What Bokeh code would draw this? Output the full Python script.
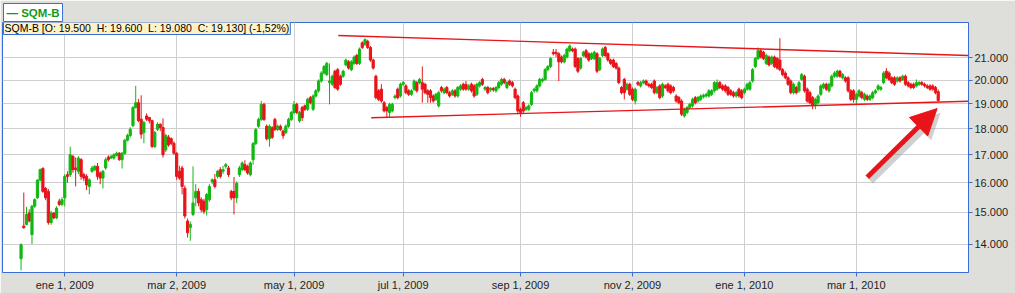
from bokeh.plotting import figure
from bokeh.models import (Range1d, FixedTicker, PrintfTickFormatter, ColumnDataSource,
                          Label, Arrow, NormalHead)
from bokeh.embed import file_html
from bokeh.resources import INLINE

# ---------------- data ----------------
opens = [
    13.56, 14.56, 14.61, 14.98, 14.29, 15.20, 15.48, 16.09, 16.50, 15.80,
    15.70, 14.67, 14.98, 14.82, 15.37, 15.26, 15.48, 16.28, 16.28, 16.94,
    16.52, 16.40, 16.82, 16.28, 16.22, 15.87, 16.40, 16.46, 16.58, 16.34,
    16.16, 16.52, 16.92, 16.88, 16.88, 16.98, 17.06, 16.82, 17.06, 17.55,
    17.73, 18.11, 18.84, 19.04, 18.37, 17.85, 18.50, 18.44, 18.31, 17.31,
    17.97, 18.17, 18.04, 17.18, 17.67, 17.61, 17.43, 17.06, 16.40, 16.52,
    15.81, 14.72, 14.51, 14.93, 15.48, 15.70, 15.42, 15.37, 15.09, 15.42,
    16.04, 16.10, 16.22, 16.46, 16.40, 16.58, 16.52, 15.70, 15.70, 15.48,
    16.28, 16.46, 16.64, 16.58,
    16.28, 16.82, 17.42, 18.09, 18.36, 18.97, 18.09, 17.60, 18.03, 18.36,
    17.96, 18.09, 17.90, 17.84, 18.09, 18.36, 18.64, 18.97, 18.30, 18.84,
    18.91, 18.77, 19.25, 18.77, 19.32, 19.54, 19.96, 20.31, 20.24, 19.89,
    19.82, 20.39, 20.46, 20.17, 20.17, 20.67, 20.81, 20.46, 20.74, 21.10,
    20.74, 21.69, 21.62, 21.76, 21.47, 20.89, 20.17, 19.54, 19.61, 19.04,
    18.84, 18.64, 18.70, 19.25, 19.61, 19.32, 19.82, 19.75, 19.54, 19.39,
    19.61, 19.89, 19.89, 19.89, 19.82, 19.54, 19.54, 19.32, 19.18, 18.91,
    19.68, 19.46, 19.68, 19.46, 19.39, 19.54, 19.32, 19.61, 19.82, 19.82,
    19.61, 19.82, 19.75, 19.39, 19.75, 20.03, 19.61, 19.68, 19.58, 19.64,
    19.54, 19.68,
    19.82, 20.03, 19.68, 19.96, 19.89, 19.61, 19.32, 18.77, 19.04, 18.77,
    18.77, 18.97, 19.54, 19.54, 19.75, 19.96, 20.03, 20.46, 20.60, 21.25,
    21.25, 21.18, 21.03, 20.81, 21.03, 21.32, 21.40, 21.40, 20.96, 20.53,
    21.10, 21.32, 21.18, 20.96, 20.96, 21.18, 20.46, 21.10, 21.47, 21.18,
    20.89, 20.89, 20.74, 20.53, 19.68, 20.03, 19.61, 19.82, 19.61, 19.11,
    19.89, 19.75, 19.89, 19.96, 19.82, 19.82, 19.96, 19.46, 19.75, 19.32,
    19.75, 19.82, 19.75, 19.68, 19.32, 19.25, 19.11, 18.50, 18.64, 18.84,
    18.91, 19.25, 19.11, 19.18, 19.29, 19.32, 19.32, 19.39, 19.54, 19.61,
    19.89, 19.75, 19.75, 19.68, 19.54, 19.46, 19.32, 19.61,
    19.54, 19.46, 19.61, 19.61, 19.96, 20.60, 20.96, 21.32, 21.25, 20.74,
    21.03, 20.74, 21.03, 20.96, 20.89, 20.46, 20.31, 20.10, 19.96, 19.46,
    19.68, 19.54, 20.03, 20.17, 19.61, 19.46, 19.25, 18.97, 19.04, 19.39,
    19.68, 19.82, 19.54, 19.75, 20.17, 20.17, 20.39, 20.10, 20.10, 20.10,
    19.54, 19.54, 19.18, 19.32, 19.46, 19.18, 19.32, 19.18, 19.25, 19.46,
    19.61, 19.61, 19.89, 20.39, 20.31, 20.10, 20.10, 19.96, 20.10, 20.03,
    20.17, 19.89, 19.82, 19.82, 19.75, 19.82, 19.89, 19.82, 19.75, 19.75,
    19.75, 19.68, 19.50,
]
highs = [
    14.02, 15.66, 15.18, 15.10, 15.25, 15.46, 16.12, 16.50, 16.55, 15.85,
    15.78, 15.05, 15.00, 15.20, 15.45, 15.50, 16.30, 16.40, 17.30, 17.00,
    16.90, 16.95, 16.88, 16.35, 16.30, 16.15, 16.60, 16.62, 16.70, 16.40,
    16.45, 16.90, 16.98, 17.00, 17.06, 17.12, 17.10, 17.10, 17.60, 17.80,
    18.05, 18.90, 19.75, 19.20, 19.35, 18.30, 18.60, 18.46, 18.35, 17.90,
    18.25, 18.20, 18.40, 17.80, 17.75, 17.65, 17.50, 17.10, 16.60, 16.60,
    15.90, 14.80, 14.70, 16.58, 15.95, 15.80, 15.50, 15.45, 15.65, 15.95,
    16.15, 16.30, 16.45, 16.55, 16.60, 16.70, 16.60, 15.75, 16.20, 16.05,
    16.60, 16.76, 16.80, 16.64,
    16.76, 17.48, 18.02, 18.43, 19.11, 19.04, 18.16, 18.16, 18.09, 18.43,
    18.16, 18.16, 17.96, 18.16, 18.43, 18.70, 19.11, 19.04, 18.70, 18.91,
    18.97, 19.25, 19.32, 19.39, 19.61, 20.03, 20.39, 20.67, 20.81, 20.74,
    20.24, 20.46, 20.53, 20.24, 20.46, 20.96, 20.89, 20.89, 21.10, 21.18,
    21.47, 21.76, 21.91, 21.84, 21.54, 20.96, 20.24, 19.61, 19.82, 19.11,
    18.91, 19.04, 19.04, 19.39, 19.68, 19.89, 19.96, 19.82, 19.61, 19.61,
    20.03, 19.96, 20.10, 20.60, 19.89, 19.61, 19.61, 19.39, 19.46, 19.54,
    19.75, 19.68, 19.75, 19.54, 19.61, 19.61, 19.75, 19.82, 19.89, 19.96,
    19.82, 19.89, 19.82, 19.89, 19.96, 20.10, 19.75, 19.75, 19.70, 19.70,
    19.75, 19.96,
    20.10, 20.10, 19.96, 20.03, 19.96, 19.68, 19.39, 18.84, 19.11, 18.91,
    18.97, 19.54, 19.68, 19.82, 20.10, 20.10, 20.53, 20.67, 21.03, 21.40,
    21.40, 21.25, 21.10, 21.18, 21.47, 21.62, 21.47, 21.47, 21.03, 21.03,
    21.32, 21.40, 21.25, 21.25, 21.32, 21.25, 21.03, 21.47, 21.54, 21.25,
    20.96, 20.96, 20.81, 20.60, 19.75, 20.10, 19.89, 19.89, 19.68, 19.68,
    19.96, 19.96, 20.03, 20.03, 19.89, 19.89, 20.03, 19.75, 19.82, 19.89,
    19.82, 19.89, 19.82, 19.75, 19.39, 19.32, 19.18, 18.84, 18.91, 19.04,
    19.25, 19.32, 19.32, 19.39, 19.42, 19.46, 19.61, 19.61, 19.96, 20.03,
    19.96, 19.82, 19.82, 19.75, 19.61, 19.54, 19.54, 19.68,
    19.61, 19.68, 19.89, 19.96, 20.53, 21.03, 21.47, 21.40, 21.32, 21.18,
    21.10, 21.10, 21.10, 21.03, 21.91, 20.53, 20.39, 20.17, 20.03, 19.89,
    19.75, 19.96, 20.31, 20.24, 19.68, 19.54, 19.32, 19.25, 19.39, 19.82,
    19.89, 19.89, 19.89, 20.24, 20.39, 20.46, 20.46, 20.31, 20.17, 20.17,
    19.61, 19.61, 19.46, 19.61, 19.54, 19.46, 19.39, 19.39, 19.54, 19.61,
    19.82, 19.75, 20.39, 20.53, 20.39, 20.17, 20.17, 20.17, 20.17, 20.24,
    20.24, 19.96, 19.89, 19.89, 20.03, 19.96, 19.96, 19.89, 19.82, 19.82,
    19.82, 19.75, 19.60,
]
lows = [
    13.22, 14.47, 14.58, 14.68, 14.00, 15.15, 15.45, 16.05, 15.65, 15.40,
    14.60, 14.60, 14.78, 14.78, 15.20, 15.20, 15.20, 16.00, 16.20, 16.35,
    15.87, 16.30, 16.10, 16.05, 15.75, 15.60, 16.35, 16.40, 16.10, 15.95,
    15.80, 16.45, 16.75, 16.85, 16.82, 16.94, 16.78, 16.50, 17.00, 17.50,
    17.65, 18.05, 18.80, 18.25, 17.60, 17.43, 18.30, 18.20, 17.25, 17.25,
    17.90, 17.90, 16.90, 17.10, 17.30, 17.35, 17.00, 16.10, 16.10, 15.60,
    14.80, 14.20, 14.10, 14.88, 15.20, 15.20, 15.00, 14.95, 14.90, 15.35,
    15.95, 15.80, 16.15, 16.15, 16.30, 16.50, 16.20, 15.40, 14.93, 15.30,
    16.20, 16.40, 16.40, 16.28,
    16.22, 16.64, 17.36, 18.03, 18.30, 18.30, 17.54, 17.30, 17.60, 17.90,
    17.90, 17.90, 17.60, 17.78, 18.03, 18.30, 18.57, 18.57, 18.23, 18.30,
    18.70, 18.70, 18.97, 18.70, 19.25, 19.46, 19.89, 20.24, 20.17, 18.97,
    19.75, 19.61, 19.54, 19.75, 20.10, 20.60, 20.46, 20.39, 20.67, 20.67,
    20.67, 21.40, 21.54, 21.40, 20.81, 20.46, 19.18, 19.11, 19.04, 18.64,
    18.43, 18.43, 18.64, 19.18, 19.18, 19.25, 19.75, 19.39, 19.32, 19.32,
    19.54, 19.46, 19.82, 19.04, 19.39, 19.04, 19.04, 19.04, 19.11, 18.84,
    19.46, 19.39, 19.39, 19.25, 19.32, 19.25, 19.25, 19.54, 19.54, 19.54,
    19.54, 19.46, 19.25, 19.32, 19.68, 19.75, 19.54, 19.39, 19.50, 19.50,
    19.46, 19.61,
    19.75, 19.82, 19.61, 19.75, 19.68, 19.18, 18.57, 18.47, 18.57, 18.70,
    18.70, 18.91, 19.46, 19.46, 19.68, 19.89, 19.96, 20.39, 20.53, 21.10,
    21.03, 19.96, 20.74, 20.74, 20.96, 21.25, 21.25, 20.53, 20.31, 20.46,
    21.03, 20.96, 20.81, 20.89, 20.89, 20.31, 20.39, 21.03, 21.03, 20.81,
    20.67, 20.53, 20.46, 19.82, 19.39, 19.18, 19.54, 19.32, 19.11, 18.97,
    19.75, 19.68, 19.82, 19.75, 19.68, 19.61, 19.39, 19.39, 19.18, 19.25,
    19.61, 19.46, 19.39, 19.46, 19.04, 18.97, 18.50, 18.43, 18.57, 18.77,
    18.84, 18.97, 19.04, 19.11, 19.22, 19.25, 19.25, 19.32, 19.46, 19.54,
    19.61, 19.54, 19.46, 19.32, 19.32, 19.25, 19.25, 19.25,
    19.18, 19.39, 19.54, 19.54, 19.89, 20.53, 20.89, 20.96, 20.89, 20.67,
    20.60, 20.67, 20.53, 20.46, 20.39, 20.17, 20.03, 19.75, 19.39, 19.39,
    19.39, 19.46, 19.96, 19.46, 19.04, 18.97, 18.77, 18.77, 18.97, 19.32,
    19.61, 19.54, 19.46, 19.68, 20.10, 20.10, 20.10, 20.03, 19.89, 19.46,
    19.11, 19.04, 18.97, 19.25, 19.18, 19.11, 19.11, 19.11, 19.18, 19.39,
    19.54, 19.54, 19.82, 20.03, 19.96, 19.82, 19.75, 19.89, 19.89, 19.96,
    19.75, 19.68, 19.61, 19.61, 19.68, 19.75, 19.75, 19.68, 19.61, 19.54,
    19.54, 19.39, 19.08,
]
closes = [
    13.98, 14.51, 14.93, 14.72, 15.20, 15.42, 16.09, 16.46, 15.70, 15.48,
    14.67, 14.98, 14.82, 15.14, 15.26, 15.42, 16.22, 16.22, 17.00, 16.46,
    16.46, 16.88, 16.22, 16.16, 15.92, 16.10, 16.52, 16.58, 16.22, 16.16,
    16.40, 16.82, 16.82, 16.94, 17.00, 17.06, 16.82, 17.06, 17.55, 17.73,
    17.97, 18.84, 19.04, 18.31, 17.78, 18.24, 18.37, 18.31, 17.31, 17.85,
    18.17, 18.04, 17.00, 17.73, 17.37, 17.43, 17.06, 16.22, 16.16, 15.87,
    14.88, 14.35, 14.61, 15.31, 15.70, 15.31, 15.09, 15.03, 15.59, 15.87,
    16.10, 15.87, 16.40, 16.22, 16.46, 16.64, 16.28, 15.48, 15.48, 15.98,
    16.52, 16.70, 16.46, 16.34,
    16.70, 17.42, 17.96, 18.36, 18.97, 18.36, 17.60, 18.09, 17.66, 17.96,
    18.09, 17.96, 17.72, 18.09, 18.36, 18.64, 18.97, 18.64, 18.64, 18.43,
    18.77, 19.18, 19.04, 19.32, 19.54, 19.96, 20.31, 20.60, 20.74, 19.96,
    20.17, 19.68, 19.61, 19.82, 20.39, 20.89, 20.53, 20.81, 21.03, 20.74,
    21.40, 21.47, 21.84, 21.47, 20.89, 20.53, 19.25, 19.18, 19.11, 18.70,
    18.70, 18.97, 18.97, 19.32, 19.25, 19.82, 19.89, 19.46, 19.39, 19.54,
    19.96, 19.54, 20.03, 19.61, 19.46, 19.39, 19.25, 19.11, 19.39, 19.46,
    19.54, 19.61, 19.46, 19.32, 19.54, 19.32, 19.68, 19.75, 19.61, 19.61,
    19.75, 19.54, 19.32, 19.82, 19.89, 19.82, 19.68, 19.46, 19.64, 19.58,
    19.68, 19.89,
    20.03, 19.89, 19.89, 19.82, 19.75, 19.25, 18.70, 18.64, 18.70, 18.84,
    18.91, 19.46, 19.61, 19.75, 20.03, 20.03, 20.46, 20.60, 20.96, 21.18,
    21.18, 20.81, 20.81, 21.10, 21.40, 21.54, 21.32, 20.60, 20.39, 20.96,
    21.25, 21.03, 20.89, 21.18, 21.25, 20.39, 20.96, 21.40, 21.10, 20.89,
    20.74, 20.60, 20.53, 19.89, 19.46, 19.46, 19.82, 19.39, 19.18, 19.61,
    19.82, 19.89, 19.96, 19.82, 19.75, 19.68, 19.46, 19.68, 19.25, 19.82,
    19.68, 19.54, 19.46, 19.54, 19.11, 19.04, 18.57, 18.77, 18.84, 18.97,
    19.18, 19.04, 19.25, 19.32, 19.35, 19.39, 19.54, 19.54, 19.89, 19.89,
    19.68, 19.61, 19.54, 19.39, 19.39, 19.32, 19.46, 19.32,
    19.25, 19.61, 19.82, 19.89, 20.46, 20.96, 21.32, 21.03, 20.96, 21.10,
    20.67, 21.03, 20.60, 20.53, 20.46, 20.24, 20.10, 19.82, 19.46, 19.82,
    19.46, 19.89, 20.24, 19.54, 19.11, 19.04, 18.91, 19.18, 19.32, 19.75,
    19.82, 19.61, 19.82, 20.17, 20.31, 20.39, 20.17, 20.24, 19.96, 19.54,
    19.18, 19.18, 19.39, 19.54, 19.25, 19.39, 19.18, 19.32, 19.46, 19.54,
    19.75, 19.68, 20.31, 20.10, 20.03, 19.89, 19.82, 20.10, 19.96, 20.17,
    19.82, 19.75, 19.68, 19.68, 19.89, 19.89, 19.82, 19.75, 19.68, 19.61,
    19.61, 19.46, 19.13,
]

y_ticks = [14, 15, 16, 17, 18, 19, 20, 21]
x_tick_pos = [16, 57, 100, 140, 183, 224, 265, 306]
x_tick_labels = ["ene 1, 2009", "mar 2, 2009", "may 1, 2009", "jul 1, 2009",
                 "sep 1, 2009", "nov 2, 2009", "ene 1, 2010", "mar 1, 2010"]

upper_x = [116.2, 347.0]
upper_y = [22.04, 21.10]
lower_x = [128.3, 347.0]
lower_y = [18.43, 19.10]
arrow_x = [310.0, 335.6]
arrow_y = [16.19, 18.80]

NB = "\u00a0"
header_text = ("SQM-B [O: 19.500" + NB + NB + "H: 19.600" + NB + NB + "L: 19.080"
               + NB + NB + "C: 19.130] (-1,52%)")
tab_text = "\u2014 SQM-B"

# ---------------- styling ----------------
GREEN = "#12B812"
RED = "#E8141A"
BLUE = "#3A6ED6"
GRID = "#CFCFCF"
BG = "#DEDEDB"
FONT = "Liberation Sans"

idx = list(range(len(opens)))
colors = [GREEN if c >= o else RED for o, c in zip(opens, closes)]
src = ColumnDataSource(dict(
    x=idx, open=opens, high=highs, low=lows, close=closes,
    top=[max(o, c) for o, c in zip(opens, closes)],
    bottom=[min(o, c) for o, c in zip(opens, closes)],
    color=colors,
))

p = figure(width=1015, height=293,
           x_range=Range1d(-6.8, 347.1), y_range=Range1d(13.16, 22.67),
           y_axis_type="log", y_axis_location="right",
           output_backend="svg", toolbar_location=None,
           min_border_left=2, min_border_right=47,
           min_border_top=2, min_border_bottom=18)

p.background_fill_color = "white"
p.border_fill_color = BG
p.outline_line_color = BLUE
p.outline_line_width = 1

# series tab above the frame
p.title.text = tab_text
p.title.align = "left"
p.title.offset = 1
p.title.text_font = FONT
p.title.text_font_size = "11.5px"
p.title.text_font_style = "bold"
p.title.text_color = "#159A15"
p.title.background_fill_color = "white"
p.title.border_line_color = BLUE
p.title.border_line_width = 1
p.title.padding = 3
p.title.standoff = 2

# axes
p.yaxis.ticker = FixedTicker(ticks=y_ticks)
p.yaxis.formatter = PrintfTickFormatter(format="%.3f")
p.ygrid.ticker = FixedTicker(ticks=y_ticks)
p.xaxis.ticker = FixedTicker(ticks=x_tick_pos)
p.xgrid.ticker = FixedTicker(ticks=x_tick_pos)
p.xaxis.major_label_overrides = {pos: lab for pos, lab in zip(x_tick_pos, x_tick_labels)}

for ax in (p.xaxis[0], p.yaxis[0]):
    ax.axis_line_color = BLUE
    ax.major_tick_line_color = BLUE
    ax.major_tick_out = 4
    ax.major_tick_in = 0
    ax.minor_tick_line_color = None
    ax.major_label_text_font = FONT
    ax.major_label_text_font_size = "11px"
    ax.major_label_text_color = "#1E1E1E"
    ax.major_label_standoff = 2

p.xgrid.grid_line_color = GRID
p.ygrid.grid_line_color = GRID
p.xgrid.grid_line_width = 1
p.ygrid.grid_line_width = 1

# candles
p.segment(x0="x", y0="low", x1="x", y1="high", line_color="color", line_width=1, source=src)
p.vbar(x="x", width=0.8, top="top", bottom="bottom", fill_color="color",
       line_color="color", line_width=1, source=src)

# trend lines
p.line(upper_x, upper_y, line_color=RED, line_width=1.4)
p.line(lower_x, lower_y, line_color=RED, line_width=1.4)

# arrow with soft shadow
shadow = Arrow(end=NormalHead(size=26, fill_color="#8A8A8A", fill_alpha=0.4,
                              line_color="#8A8A8A", line_alpha=0.0),
               x_start=arrow_x[0] + 1.3, y_start=arrow_y[0] * 0.991,
               x_end=arrow_x[1] + 1.3, y_end=arrow_y[1] * 0.991,
               line_color="#8A8A8A", line_alpha=0.4, line_width=6)
p.add_layout(shadow)
arrow = Arrow(end=NormalHead(size=26, fill_color=RED, line_color=RED, line_width=1),
              x_start=arrow_x[0], y_start=arrow_y[0], x_end=arrow_x[1], y_end=arrow_y[1],
              line_color=RED, line_width=5)
p.add_layout(arrow)

# header box inside the frame (screen units relative to the frame)
header = Label(x=1, y=252, x_units="screen", y_units="screen", text=header_text,
               text_font=FONT, text_font_size="10.5px", text_color="black",
               text_align="left", text_baseline="top",
               background_fill_color="#FFF2C6", border_line_color=BLUE,
               border_line_width=1, padding=1)
p.add_layout(header)

open("out.html", "w").write(file_html(p, INLINE))
